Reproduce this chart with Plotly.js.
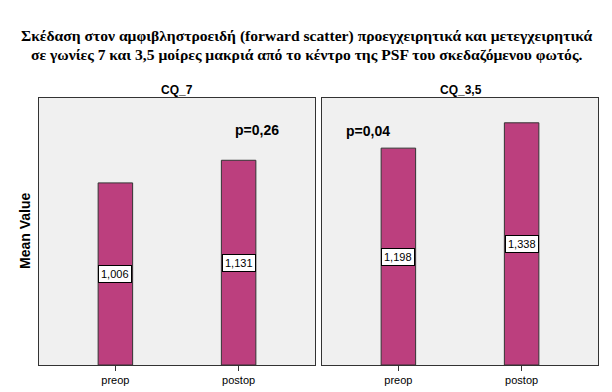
<!DOCTYPE html>
<html>
<head>
<meta charset="utf-8">
<script src="https://cdn.plot.ly/plotly-3.0.1.min.js"></script>
<style>html,body{margin:0;padding:0;background:#fff;}#chart{width:612px;height:392px;}</style>
</head>
<body>
<div id="chart"></div>
<script>
const categories = ['preop', 'postop'];
const panelNames = ['CQ_7', 'CQ_3,5'];
const cq7Values = [1.006, 1.131];
const cq35Values = [1.198, 1.338];
const pValues = ['p=0,26', 'p=0,04'];
const titleLines = [
  'Σκέδαση στον αμφιβληστροειδή (forward scatter) προεγχειρητικά και μετεγχειρητικά',
  'σε γωνίες 7 και 3,5 μοίρες μακριά από το κέντρο της PSF του σκεδαζόμενου φωτός.'
];
const yTitle = 'Mean Value';

const barColor = '#bc3f7e';
const sans = '"Liberation Sans", Arial, sans-serif';
const serif = '"Liberation Serif", "Times New Roman", serif';
const fmt = v => v.toFixed(3).replace('.', ',');

const traces = [
  {type: 'bar', x: categories, y: cq7Values, xaxis: 'x', yaxis: 'y',
   width: 0.28, marker: {color: barColor, line: {color: '#333', width: 1}}, hoverinfo: 'none'},
  {type: 'bar', x: categories, y: cq35Values, xaxis: 'x2', yaxis: 'y2',
   width: 0.28, marker: {color: barColor, line: {color: '#333', width: 1}}, hoverinfo: 'none'}
];

const yDom = [1 - 365/392, 1 - 98/392];
const xCommon = {
  type: 'category', range: [-0.62, 1.62], showline: true, mirror: true, linecolor: '#333', linewidth: 1,
  ticks: 'outside', ticklen: 5, tickcolor: '#333', showgrid: false, zeroline: false,
  tickfont: {family: sans, size: 11, color: '#000'}, fixedrange: true
};
const yCommon = {
  range: [0, 1.475], domain: yDom, showline: true, mirror: true, linecolor: '#333', linewidth: 1,
  showticklabels: false, ticks: '', showgrid: false, zeroline: false, fixedrange: true
};

const annotations = [];
function valueLabels(vals, xr, yr) {
  vals.forEach((v, i) => {
    annotations.push({x: categories[i], y: v / 2, xref: xr, yref: yr, text: fmt(v), showarrow: false,
      xanchor: 'center', yanchor: 'middle',
      bgcolor: '#fff', bordercolor: '#000', borderwidth: 1, borderpad: 2,
      font: {family: sans, size: 11, color: '#000'}});
  });
}
valueLabels(cq7Values, 'x', 'y');
valueLabels(cq35Values, 'x2', 'y2');

annotations.push({x: 1.15, y: 1.30, xref: 'x', yref: 'y', text: '<b>' + pValues[0] + '</b>', showarrow: false,
  xanchor: 'center', yanchor: 'middle', font: {family: sans, size: 14, color: '#000'}});
annotations.push({x: -0.25, y: 1.29, xref: 'x2', yref: 'y2', text: '<b>' + pValues[1] + '</b>', showarrow: false,
  xanchor: 'center', yanchor: 'middle', font: {family: sans, size: 14, color: '#000'}});

annotations.push({x: 177/612, y: 1 - 90/392, xref: 'paper', yref: 'paper', text: '<b>' + panelNames[0] + '</b>',
  xanchor: 'center', yanchor: 'middle', showarrow: false, font: {family: sans, size: 12, color: '#000'}});
annotations.push({x: 461/612, y: 1 - 90/392, xref: 'paper', yref: 'paper', text: '<b>' + panelNames[1] + '</b>',
  xanchor: 'center', yanchor: 'middle', showarrow: false, font: {family: sans, size: 12, color: '#000'}});

annotations.push({x: 25/612, y: 1 - 231/392, xref: 'paper', yref: 'paper', text: '<b>' + yTitle + '</b>',
  xanchor: 'center', yanchor: 'middle', textangle: -90, showarrow: false, font: {family: sans, size: 14, color: '#000'}});

const titleY = [36, 54.5];
titleLines.forEach((t, i) => {
  annotations.push({x: 0.5, y: 1 - titleY[i]/392, xref: 'paper', yref: 'paper', text: '<b>' + t + '</b>',
    xanchor: 'center', yanchor: 'middle', showarrow: false, font: {family: serif, size: 15.6, color: '#000'}});
});

const layout = {
  width: 612, height: 392,
  margin: {l: 0, r: 0, t: 0, b: 0},
  paper_bgcolor: '#fff', plot_bgcolor: '#f0f0f0',
  showlegend: false,
  separators: ',.',
  xaxis: Object.assign({}, xCommon, {domain: [39/612, 315/612], anchor: 'y'}),
  xaxis2: Object.assign({}, xCommon, {domain: [322/612, 598/612], anchor: 'y2'}),
  yaxis: Object.assign({}, yCommon, {anchor: 'x'}),
  yaxis2: Object.assign({}, yCommon, {anchor: 'x2'}),
  annotations: annotations
};

Plotly.newPlot('chart', traces, layout, {staticPlot: true, displayModeBar: false});
</script>
</body>
</html>
